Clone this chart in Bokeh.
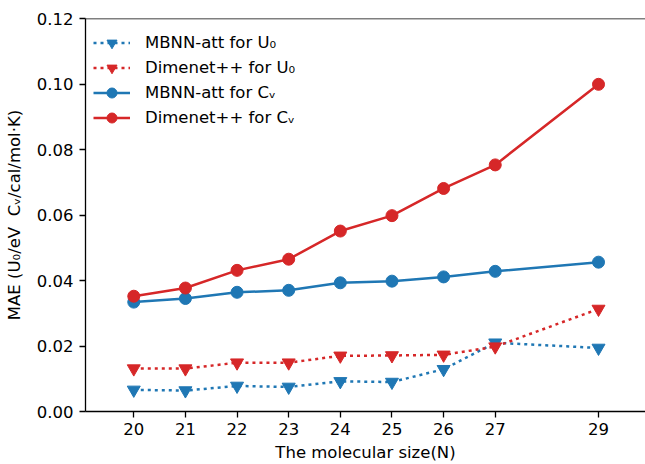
from bokeh.plotting import figure
from bokeh.models import Range1d, FixedTicker, NumeralTickFormatter, Span, Legend, LegendItem
from bokeh.embed import file_html
from bokeh.resources import INLINE

# ---- data ----
sizes = [20, 21, 22, 23, 24, 25, 26, 27, 29]
mbnn_u0 = [0.0066, 0.0064, 0.0078, 0.0075, 0.0092, 0.0090, 0.0129, 0.0210, 0.0194]
dimenet_u0 = [0.0131, 0.0131, 0.0149, 0.0149, 0.0170, 0.0171, 0.0173, 0.0198, 0.0313]
mbnn_cv = [0.0334, 0.0345, 0.0364, 0.0370, 0.0393, 0.0398, 0.0411, 0.0428, 0.0456]
dimenet_cv = [0.0352, 0.0377, 0.0431, 0.0465, 0.0551, 0.0598, 0.0681, 0.0753, 0.0999]
y_ticks = [0.0, 0.02, 0.04, 0.06, 0.08, 0.10, 0.12]
labels = ["MBNN-att for U\u2080", "Dimenet++ for U\u2080",
          "MBNN-att for C\u1d65", "Dimenet++ for C\u1d65"]

BLUE = "#1f77b4"
RED = "#d62728"
FONT = "DejaVu Sans"
FS = "16.5px"

p = figure(width=645, height=464, output_backend="svg", toolbar_location=None,
           x_range=Range1d(19.065, 29.91), y_range=Range1d(0, 0.12),
           min_border_left=85, min_border_right=0, min_border_top=18, min_border_bottom=51)
p.outline_line_color = None
p.xgrid.visible = False
p.ygrid.visible = False
p.background_fill_color = "white"
p.border_fill_color = "white"

l1 = p.line(sizes, mbnn_u0, line_color=BLUE, line_width=2.5, line_dash="3 4")
m1 = p.scatter(sizes, mbnn_u0, marker="inverted_triangle", size=13, color=BLUE)
l2 = p.line(sizes, dimenet_u0, line_color=RED, line_width=2.5, line_dash="3 4")
m2 = p.scatter(sizes, dimenet_u0, marker="inverted_triangle", size=13, color=RED)
l3 = p.line(sizes, mbnn_cv, line_color=BLUE, line_width=2.5)
m3 = p.scatter(sizes, mbnn_cv, marker="circle", size=12, color=BLUE)
l4 = p.line(sizes, dimenet_cv, line_color=RED, line_width=2.5)
m4 = p.scatter(sizes, dimenet_cv, marker="circle", size=12, color=RED)

p.add_layout(Span(location=0.12, dimension="width", line_color="black", line_width=1.3))

for ax in (p.xaxis[0], p.yaxis[0]):
    ax.axis_line_color = "black"
    ax.axis_line_width = 1.3
    ax.major_tick_line_color = "black"
    ax.major_tick_line_width = 1.3
    ax.major_tick_out = 6
    ax.major_tick_in = 0
    ax.minor_tick_line_color = None
    ax.major_label_text_font = FONT
    ax.major_label_text_font_size = FS
    ax.major_label_text_color = "black"
    ax.axis_label_text_font = FONT
    ax.axis_label_text_font_size = FS
    ax.axis_label_text_font_style = "normal"
    ax.axis_label_text_color = "black"

p.xaxis.ticker = FixedTicker(ticks=sizes)
p.xaxis.axis_label = "The molecular size(N)"
p.xaxis.major_label_standoff = 5
p.xaxis.axis_label_standoff = 5
p.yaxis.ticker = FixedTicker(ticks=y_ticks)
p.yaxis.formatter = NumeralTickFormatter(format="0.00")
p.yaxis.axis_label = "MAE (U\u2080/eV\u00a0\u00a0C\u1d65/cal/mol\u00b7K)"
p.yaxis.major_label_standoff = 6
p.yaxis.axis_label_standoff = 10

legend = Legend(items=[
    LegendItem(label=labels[0], renderers=[l1, m1]),
    LegendItem(label=labels[1], renderers=[l2, m2]),
    LegendItem(label=labels[2], renderers=[l3, m3]),
    LegendItem(label=labels[3], renderers=[l4, m4]),
], location=(8, 281))
legend.border_line_color = None
legend.background_fill_alpha = 0
legend.margin = 0
legend.padding = 0
legend.spacing = 0
legend.glyph_width = 37
legend.glyph_height = 25
legend.label_height = 25
legend.label_standoff = 15
legend.label_text_font = FONT
legend.label_text_font_size = FS
legend.label_text_color = "black"
p.add_layout(legend, "center")

open("out.html", "w").write(file_html(p, INLINE))
